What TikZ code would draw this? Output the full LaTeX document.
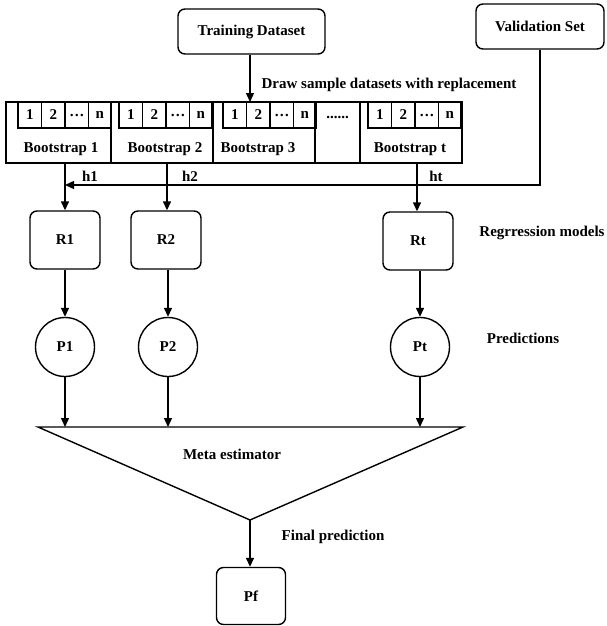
\documentclass[tikz,border=0pt]{standalone}
\usepackage{fontspec}
\setmainfont{Liberation Serif}
\usetikzlibrary{arrows.meta}
\begin{document}
\begin{tikzpicture}[x=1pt,y=-1pt,
  font=\fontsize{15}{17}\selectfont\bfseries,
  line width=1.4pt,
  arr/.style={-{Triangle[length=9pt,width=8pt]}},
  rbox/.style={draw,rounded corners=7pt,inner sep=0pt},
  pcirc/.style={draw,circle,minimum size=59pt,inner sep=0pt},
  lbl/.style={inner sep=0pt}]
\fill[white] (0,0) rectangle (606,626);
\useasboundingbox (0,0) rectangle (606,626);

% top boxes
\node[rbox,minimum width=147pt,minimum height=45pt] (train) at (251.5,31.5) {Training Dataset};
\node[rbox,minimum width=128pt,minimum height=45pt] (valid) at (540,26.5) {Validation Set};
\coordinate (b3top) at (250,102);
\draw[arr] (train.south -| b3top) -- (b3top);
\node[lbl] (drawlbl) at (389,85) {Draw sample datasets with replacement};

% bootstrap strip
\draw (6,102) rectangle (462,163);
\foreach \x in {111,213,315,360} \draw (\x,102) -- (\x,163);
\foreach \a/\k in {18/a,119/b,223/c,368/d}{
  \draw (\a,102) rectangle (\a+93,128);
  \foreach \d in {23.5,47,70.5} \draw (\a+\d,102) -- (\a+\d,128);
  \node[lbl] (c\k1) at (\a+11.75,115) {1};
  \node[lbl] (c\k2) at (\a+35.25,115) {2};
  \node[lbl] (c\k3) at (\a+58.75,115) {…};
  \node[lbl] (c\k4) at (\a+81.75,115) {n};
}
\node[lbl] (dots) at (337.5,117) {......};
\node[lbl] (bs1) at (61,149) {Bootstrap 1};
\node[lbl] (bs2) at (165,149) {Bootstrap 2};
\node[lbl] (bs3) at (258,149) {Bootstrap 3};
\node[lbl] (bst) at (410,149) {Bootstrap t};

% regression models
\node[rbox,minimum width=70pt,minimum height=58pt] (R1) at (65,240) {R1};
\node[rbox,minimum width=70pt,minimum height=58pt] (R2) at (166,240) {R2};
\node[rbox,minimum width=70pt,minimum height=58pt] (Rt) at (418,241) {Rt};

\coordinate (s1) at (65,163);
\coordinate (s2) at (167,163);
\coordinate (st) at (417,163);
\draw[arr] (s1) -- (s1 |- R1.north);
\draw[arr] (s2) -- (s2 |- R2.north);
\draw[arr] (st) -- (st |- Rt.north);
\node[lbl] (h1) at (90,176) {h1};
\node[lbl] (h2) at (190,176) {h2};
\node[lbl] (ht) at (436,176) {ht};

% validation feedback
\coordinate (vcorner) at (540,185);
\coordinate (vjoin) at (65,185);
\draw[arr] (valid.south) -- (vcorner) -- (vjoin);

% predictions
\node[pcirc] (P1) at (65,347) {P1};
\node[pcirc] (P2) at (168,347) {P2};
\node[pcirc] (Pt) at (420,347) {Pt};
\draw[arr] (P1.north |- R1.south) -- (P1.north);
\draw[arr] (P2.north |- R2.south) -- (P2.north);
\draw[arr] (Pt.north |- Rt.south) -- (Pt.north);

\node[lbl] (reglbl) at (542,233) {Regrression models};
\node[lbl] (predlbl) at (523,338) {Predictions};

% meta estimator triangle
\coordinate (tl) at (38,427);
\coordinate (tr) at (463,427);
\coordinate (apex) at (250,520);
\draw[line join=miter] (tl) -- (tr) -- (apex) -- cycle;
\draw[arr] (P1.south) -- (P1.south |- tl);
\draw[arr] (P2.south) -- (P2.south |- tl);
\draw[arr] (Pt.south) -- (Pt.south |- tl);
\node[lbl] (metalbl) at (232,454) {Meta estimator};

% final prediction
\node[rbox,minimum width=69pt,minimum height=57pt] (Pf) at (251,596) {Pf};
\draw[arr] (apex) -- (apex |- Pf.north);
\node[lbl] (finallbl) at (333,537) {Final prediction};
\end{tikzpicture}
\end{document}
